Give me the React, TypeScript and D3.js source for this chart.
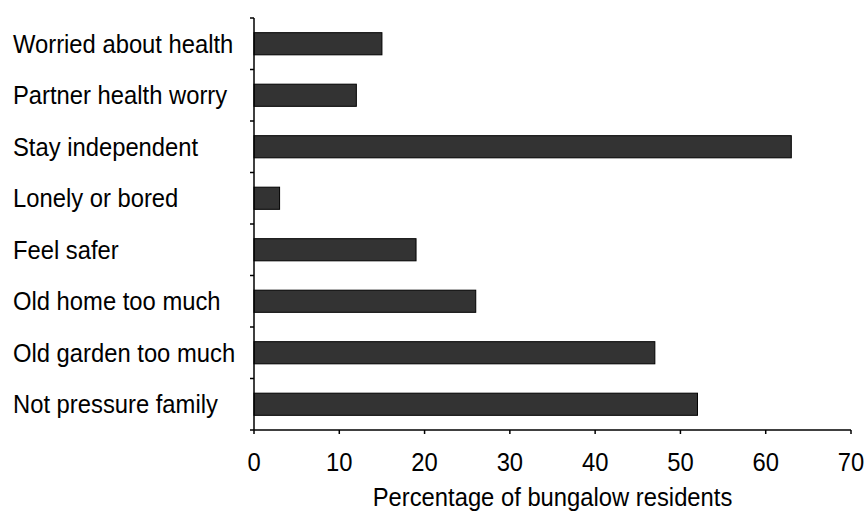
import React from "react";
import * as d3 from "d3";

const categories = [
  "Worried about health",
  "Partner health worry",
  "Stay independent",
  "Lonely or bored",
  "Feel safer",
  "Old home too much",
  "Old garden too much",
  "Not pressure family",
];
const values = [15, 12, 63, 3, 19, 26, 47, 52];
const xTicks = [0, 10, 20, 30, 40, 50, 60, 70];
const xTitle = "Percentage of bungalow residents";

const W = 867;
const H = 511;
const left = 254;
const right = 851;
const top = 18;
const bottom = 430;
const font = "'Liberation Sans', Arial, Helvetica, sans-serif";
const FS = 23.8;
const SY = 1.12;

function T({ x, y, anchor, children }: { x: number; y: number; anchor?: string; children: any }) {
  return (
    <text
      transform={`translate(${x},${y}) scale(1,${SY})`}
      textAnchor={anchor || "start"}
      fontSize={FS}
      fill="#000"
    >
      {children}
    </text>
  );
}

export default function App() {
  const x = d3.scaleLinear().domain([0, 70]).range([left, right]);
  const y = d3
    .scaleBand<string>()
    .domain(categories)
    .range([top, bottom])
    .paddingInner(0.57)
    .paddingOuter(0.285);
  const band = d3.scaleBand<string>().domain(categories).range([top, bottom]);
  const boundaries = d3.range(categories.length + 1).map((i) => top + i * band.step());

  return (
    <svg
      width={W}
      height={H}
      style={{ position: "absolute", left: 0, top: 0, background: "#fff" }}
      fontFamily={font}
    >
      {categories.map((c, i) => (
        <rect
          key={c}
          x={x(0)}
          y={y(c)}
          width={x(values[i]) - x(0)}
          height={y.bandwidth()}
          fill="#333333"
          stroke="#000"
          strokeWidth={1}
        />
      ))}
      {categories.map((c) => (
        <T key={c + "l"} x={13} y={(band(c) as number) + band.bandwidth() / 2 + 9}>
          {c}
        </T>
      ))}
      <line x1={left} x2={left} y1={top} y2={bottom} stroke="#000" strokeWidth={1.5} />
      {boundaries.map((b, i) => (
        <line key={"yt" + i} x1={left - 4} x2={left} y1={b} y2={b} stroke="#000" strokeWidth={1.5} />
      ))}
      <line x1={left} x2={right} y1={bottom} y2={bottom} stroke="#000" strokeWidth={1.5} />
      {xTicks.map((t) => (
        <g key={"xt" + t}>
          <line x1={x(t)} x2={x(t)} y1={bottom} y2={bottom + 4} stroke="#000" strokeWidth={1.5} />
          <T x={x(t)} y={471} anchor="middle">
            {t}
          </T>
        </g>
      ))}
      <T x={(left + right) / 2} y={506} anchor="middle">
        {xTitle}
      </T>
    </svg>
  );
}
